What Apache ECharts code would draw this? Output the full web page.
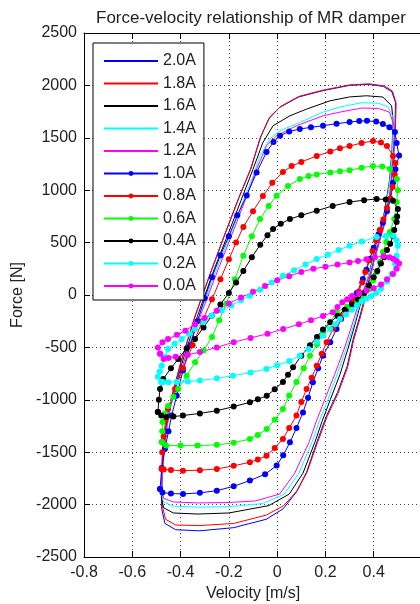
<!DOCTYPE html>
<html>
<head>
<meta charset="utf-8">
<script src="https://cdn.jsdelivr.net/npm/echarts@6/dist/echarts.min.js"></script>
<style>
  html, body { margin: 0; padding: 0; background: #fff; }
  #main { width: 420px; height: 604px; }
</style>
</head>
<body>
<div id="main"></div>
<script>
// legend labels, in plotting order
const currents = ["2.0A", "1.8A", "1.6A", "1.4A", "1.2A", "1.0A", "0.8A", "0.6A", "0.4A", "0.2A", "0.0A"];
const colors = ["#0000ff", "#ff0000", "#000000", "#00ffff", "#ff00ff", "#0000ff", "#ff0000", "#00ff00", "#000000", "#00ffff", "#ff00ff"];
const withMarkers = [false, false, false, false, false, true, true, true, true, true, true];

const xTicks = [-0.8, -0.6, -0.4, -0.2, 0, 0.2, 0.4, 0.6];
const yTicks = [-2500, -2000, -1500, -1000, -500, 0, 500, 1000, 1500, 2000, 2500];

// hysteresis loops: [velocity m/s, force N]
const loop20 = [[-0.478,-2040],[-0.480,-1880],[-0.475,-1600],[-0.465,-1300],[-0.44,-1000],[-0.40,-650],[-0.34,-200],[-0.27,250],[-0.21,620],[-0.16,920],[-0.11,1200],[-0.07,1500],[-0.035,1680],[0.01,1790],[0.09,1890],[0.19,1950],[0.30,2000],[0.38,2010],[0.44,1990],[0.475,1940],[0.49,1840],[0.488,1600],[0.48,1300],[0.468,980],[0.44,660],[0.40,340],[0.37,40],[0.343,-200],[0.315,-420],[0.29,-680],[0.25,-930],[0.205,-1150],[0.165,-1400],[0.122,-1690],[0.08,-1880],[0.025,-2040],[-0.045,-2140],[-0.18,-2220],[-0.32,-2250],[-0.42,-2240],[-0.465,-2180],[-0.478,-2040]];
const loop18 = [[-0.476,-2010],[-0.478,-1850],[-0.473,-1580],[-0.463,-1290],[-0.438,-990],[-0.398,-640],[-0.338,-190],[-0.268,260],[-0.208,630],[-0.158,930],[-0.108,1210],[-0.068,1510],[-0.03,1700],[0.015,1800],[0.09,1895],[0.19,1955],[0.30,2005],[0.38,2015],[0.445,1995],[0.478,1945],[0.493,1830],[0.49,1590],[0.482,1290],[0.47,970],[0.442,650],[0.402,330],[0.372,30],[0.345,-210],[0.317,-430],[0.292,-690],[0.252,-940],[0.207,-1160],[0.167,-1410],[0.124,-1690],[0.082,-1870],[0.027,-2010],[-0.045,-2100],[-0.18,-2180],[-0.32,-2200],[-0.42,-2195],[-0.462,-2140],[-0.476,-2010]];
const loop16 = [[-0.478,-1950],[-0.478,-1750],[-0.47,-1500],[-0.455,-1200],[-0.43,-950],[-0.39,-620],[-0.33,-200],[-0.26,250],[-0.20,600],[-0.15,900],[-0.10,1200],[-0.06,1450],[-0.017,1615],[0.053,1710],[0.122,1774],[0.219,1853],[0.30,1890],[0.37,1901],[0.438,1889],[0.474,1806],[0.48,1679],[0.476,1400],[0.466,1100],[0.445,800],[0.41,480],[0.378,180],[0.355,0],[0.325,-260],[0.295,-500],[0.26,-760],[0.22,-1000],[0.187,-1200],[0.157,-1400],[0.107,-1700],[0.05,-1900],[-0.035,-2010],[-0.2,-2080],[-0.33,-2090],[-0.43,-2080],[-0.47,-2030],[-0.478,-1950]];
const loop14 = [[-0.478,-1900],[-0.476,-1700],[-0.466,-1450],[-0.45,-1150],[-0.42,-900],[-0.38,-580],[-0.32,-180],[-0.25,250],[-0.19,600],[-0.14,900],[-0.10,1130],[-0.071,1329],[-0.03,1488],[0.012,1567],[0.094,1647],[0.19,1745],[0.26,1793],[0.35,1835],[0.42,1830],[0.46,1793],[0.48,1698],[0.479,1450],[0.47,1150],[0.452,850],[0.418,530],[0.385,230],[0.352,0],[0.322,-250],[0.288,-500],[0.248,-760],[0.21,-1000],[0.175,-1200],[0.145,-1400],[0.09,-1700],[0.03,-1900],[-0.06,-1990],[-0.2,-2020],[-0.33,-2024],[-0.43,-2015],[-0.47,-1975],[-0.478,-1900]];
const loop12 = [[-0.478,-1870],[-0.475,-1680],[-0.465,-1420],[-0.45,-1130],[-0.42,-880],[-0.375,-560],[-0.31,-150],[-0.24,270],[-0.18,620],[-0.13,920],[-0.085,1202],[-0.044,1424],[-0.002,1520],[0.08,1615],[0.19,1710],[0.26,1745],[0.35,1784],[0.42,1780],[0.465,1745],[0.485,1612],[0.484,1400],[0.474,1100],[0.458,820],[0.424,520],[0.39,220],[0.348,0],[0.315,-250],[0.28,-500],[0.238,-760],[0.197,-1000],[0.163,-1200],[0.133,-1400],[0.073,-1700],[0.01,-1900],[-0.09,-1965],[-0.2,-1980],[-0.33,-1984],[-0.43,-1975],[-0.47,-1940],[-0.478,-1870]];
const loop10 = [[-0.485,-1850],[-0.478,-1650],[-0.465,-1470],[-0.45,-1300],[-0.437,-1151],[-0.416,-961],[-0.39,-720],[-0.36,-480],[-0.33,-250],[-0.30,-30],[-0.27,170],[-0.235,380],[-0.20,560],[-0.165,760],[-0.126,950],[-0.085,1170],[-0.044,1364],[-0.015,1460],[0.012,1520],[0.05,1560],[0.094,1584],[0.14,1600],[0.19,1615],[0.246,1635],[0.30,1650],[0.34,1660],[0.372,1662],[0.41,1655],[0.438,1631],[0.465,1600],[0.488,1555],[0.495,1450],[0.505,1330],[0.49,1200],[0.48,1070],[0.47,916],[0.455,800],[0.438,690],[0.42,580],[0.40,450],[0.384,343],[0.37,240],[0.355,153],[0.33,20],[0.31,-70],[0.288,-134],[0.265,-230],[0.246,-324],[0.22,-450],[0.19,-579],[0.17,-700],[0.148,-833],[0.128,-980],[0.107,-1120],[0.08,-1270],[0.053,-1405],[0.025,-1530],[-0.002,-1628],[-0.05,-1710],[-0.113,-1771],[-0.18,-1825],[-0.25,-1867],[-0.32,-1888],[-0.39,-1898],[-0.44,-1895],[-0.475,-1885],[-0.485,-1850]];
const loop08 = [[-0.478,-1660],[-0.476,-1500],[-0.47,-1350],[-0.462,-1200],[-0.452,-1088],[-0.423,-897],[-0.39,-700],[-0.35,-480],[-0.31,-250],[-0.27,-40],[-0.235,150],[-0.20,340],[-0.17,500],[-0.14,650],[-0.10,800],[-0.059,945],[-0.02,1070],[0.024,1173],[0.06,1230],[0.10,1270],[0.164,1326],[0.22,1370],[0.26,1400],[0.30,1422],[0.35,1450],[0.397,1470],[0.43,1455],[0.455,1422],[0.48,1326],[0.49,1260],[0.487,1150],[0.478,1030],[0.467,916],[0.455,830],[0.44,720],[0.425,620],[0.41,520],[0.395,420],[0.38,330],[0.365,220],[0.352,120],[0.338,30],[0.315,-60],[0.29,-130],[0.26,-197],[0.232,-320],[0.205,-450],[0.185,-560],[0.164,-674],[0.143,-790],[0.122,-897],[0.10,-1020],[0.08,-1151],[0.05,-1270],[0.024,-1374],[-0.01,-1460],[-0.044,-1533],[-0.08,-1570],[-0.113,-1596],[-0.18,-1630],[-0.25,-1660],[-0.32,-1672],[-0.39,-1676],[-0.44,-1670],[-0.47,-1665],[-0.478,-1660]];
const loop06 = [[-0.478,-1403],[-0.476,-1300],[-0.475,-1212],[-0.465,-1130],[-0.452,-1059],[-0.43,-970],[-0.41,-897],[-0.375,-770],[-0.34,-642],[-0.305,-530],[-0.27,-400],[-0.24,-240],[-0.21,-80],[-0.175,150],[-0.14,375],[-0.105,560],[-0.071,725],[-0.035,850],[-0.002,947],[0.045,1040],[0.094,1107],[0.13,1135],[0.164,1150],[0.22,1170],[0.26,1180],[0.30,1190],[0.35,1215],[0.397,1231],[0.435,1225],[0.467,1202],[0.496,1107],[0.50,1000],[0.495,887],[0.485,725],[0.467,601],[0.452,505],[0.438,410],[0.425,315],[0.412,219],[0.398,140],[0.384,57],[0.36,-20],[0.33,-80],[0.29,-110],[0.246,-165],[0.22,-260],[0.19,-356],[0.165,-470],[0.136,-579],[0.11,-700],[0.08,-830],[0.05,-960],[0.024,-1088],[-0.01,-1190],[-0.043,-1278],[-0.08,-1335],[-0.113,-1374],[-0.18,-1410],[-0.25,-1430],[-0.33,-1437],[-0.40,-1437],[-0.46,-1437],[-0.478,-1403]];
const loop04 = [[-0.494,-1116],[-0.49,-1000],[-0.485,-897],[-0.472,-801],[-0.44,-700],[-0.41,-610],[-0.375,-510],[-0.34,-420],[-0.305,-310],[-0.271,-197],[-0.235,-90],[-0.20,20],[-0.17,120],[-0.14,230],[-0.105,360],[-0.07,480],[-0.04,570],[-0.017,630],[0.015,680],[0.053,725],[0.10,760],[0.164,804],[0.23,850],[0.30,887],[0.36,905],[0.412,916],[0.45,912],[0.48,900],[0.50,820],[0.497,750],[0.495,696],[0.485,620],[0.48,560],[0.468,490],[0.455,430],[0.443,360],[0.43,300],[0.415,230],[0.40,170],[0.38,90],[0.36,20],[0.335,-40],[0.31,-90],[0.28,-140],[0.25,-200],[0.22,-260],[0.19,-330],[0.165,-400],[0.136,-480],[0.10,-580],[0.066,-690],[0.045,-760],[0.024,-830],[-0.01,-900],[-0.043,-961],[-0.08,-995],[-0.113,-1024],[-0.18,-1065],[-0.25,-1104],[-0.32,-1130],[-0.39,-1150],[-0.43,-1160],[-0.458,-1164],[-0.48,-1150],[-0.494,-1116]];
const loop02 = [[-0.48,-830],[-0.494,-780],[-0.486,-730],[-0.478,-674],[-0.465,-590],[-0.452,-515],[-0.425,-465],[-0.395,-420],[-0.365,-370],[-0.34,-324],[-0.305,-260],[-0.271,-197],[-0.23,-150],[-0.19,-100],[-0.15,-50],[-0.113,-6],[-0.07,50],[-0.023,120],[0.024,184],[0.07,235],[0.118,290],[0.164,343],[0.21,385],[0.255,430],[0.30,471],[0.35,510],[0.412,553],[0.45,562],[0.48,566],[0.495,520],[0.50,471],[0.495,375],[0.488,300],[0.475,200],[0.455,130],[0.43,60],[0.41,20],[0.39,-10],[0.37,-35],[0.35,-60],[0.33,-100],[0.31,-140],[0.285,-185],[0.26,-230],[0.24,-280],[0.219,-324],[0.19,-390],[0.164,-448],[0.13,-515],[0.094,-579],[0.05,-630],[0.0,-670],[-0.044,-706],[-0.11,-740],[-0.183,-770],[-0.25,-795],[-0.32,-817],[-0.37,-825],[-0.416,-830],[-0.45,-832],[-0.472,-830],[-0.48,-830]];
const loop00 = [[-0.485,-560],[-0.494,-500],[-0.475,-450],[-0.452,-420],[-0.415,-380],[-0.38,-340],[-0.34,-280],[-0.30,-220],[-0.25,-150],[-0.20,-80],[-0.15,-25],[-0.10,30],[-0.05,85],[0.0,140],[0.05,180],[0.1,220],[0.15,250],[0.2,270],[0.25,290],[0.3,310],[0.335,325],[0.37,340],[0.405,360],[0.44,370],[0.465,360],[0.48,345],[0.495,325],[0.505,300],[0.495,250],[0.48,200],[0.455,150],[0.43,100],[0.4,65],[0.37,40],[0.34,15],[0.31,-10],[0.29,-40],[0.27,-70],[0.25,-115],[0.23,-165],[0.19,-200],[0.14,-240],[0.09,-280],[0.025,-325],[-0.04,-370],[-0.11,-410],[-0.18,-450],[-0.25,-500],[-0.32,-545],[-0.37,-570],[-0.42,-590],[-0.45,-600],[-0.47,-610],[-0.485,-560]];

const loops = [loop20, loop18, loop16, loop14, loop12, loop10, loop08, loop06, loop04, loop02, loop00];

const font = "'Liberation Sans', Arial, Helvetica, sans-serif";
const textColor = "#222";

const series = loops.map((data, i) => ({
  name: currents[i],
  type: "line",
  data: data,
  symbol: withMarkers[i] ? "circle" : "none",
  symbolSize: 6,
  showSymbol: withMarkers[i],
  lineStyle: { color: colors[i], width: 1 },
  itemStyle: { color: colors[i] },
  emphasis: { disabled: true },
}));

// line-only entries get no dot in the legend
const legendData = currents.map((name, i) => ({
  name: name,
  itemStyle: withMarkers[i] ? { color: colors[i] } : { opacity: 0 },
}));

const option = {
  backgroundColor: "#fff",
  animation: false,
  title: {
    text: "Force-velocity relationship of MR damper",
    left: 96,
    top: 10,
    padding: 0,
    textStyle: { fontFamily: font, fontSize: 17, fontWeight: "normal", color: textColor },
  },
  legend: {
    orient: "vertical",
    left: 93,
    top: 43,
    padding: [10, 8, 6, 10],
    itemWidth: 54,
    itemHeight: 6,
    itemGap: 6.5,
    backgroundColor: "#fff",
    borderColor: "#000",
    borderWidth: 1,
    borderRadius: 0,
    data: legendData,
    textStyle: { fontFamily: font, fontSize: 16, color: textColor, width: 36 },
  },
  // the plot box runs a little past the right edge of the page, as in the figure
  grid: { left: 84, top: 33, width: 338, height: 524, outerBoundsMode: "none" },
  xAxis: [
    {
      type: "value",
      min: xTicks[0],
      max: xTicks[xTicks.length - 1],
      interval: 0.2,
      name: "Velocity [m/s]",
      nameLocation: "middle",
      nameGap: 29,
      nameTextStyle: { fontFamily: font, fontSize: 16, color: textColor },
      axisLine: { show: true, onZero: false, lineStyle: { color: "#000", width: 1 } },
      axisTick: { show: true, inside: true, length: 6, lineStyle: { color: "#000" } },
      axisLabel: {
        fontFamily: font, fontSize: 16, color: textColor, margin: 8,
        showMaxLabel: false,
        formatter: (v) => String(Math.round(v * 10) / 10),
      },
      splitLine: { show: true, lineStyle: { color: "#444", type: [1, 3], width: 1 } },
    },
    {
      type: "value",
      position: "top",
      min: xTicks[0],
      max: xTicks[xTicks.length - 1],
      interval: 0.2,
      axisLine: { show: true, onZero: false, lineStyle: { color: "#000", width: 1 } },
      axisTick: { show: true, inside: true, length: 6, lineStyle: { color: "#000" } },
      axisLabel: { show: false },
      splitLine: { show: false },
    },
  ],
  yAxis: {
    type: "value",
    min: yTicks[0],
    max: yTicks[yTicks.length - 1],
    interval: 500,
    name: "Force [N]",
    nameLocation: "middle",
    nameGap: 47,
    nameTextStyle: { fontFamily: font, fontSize: 16, color: textColor },
    axisLine: { show: true, onZero: false, lineStyle: { color: "#000", width: 1 } },
    axisTick: { show: true, inside: true, length: 6, lineStyle: { color: "#000" } },
    axisLabel: { fontFamily: font, fontSize: 16, color: textColor, margin: 7, formatter: (v) => String(v) },
    splitLine: { show: true, lineStyle: { color: "#444", type: [1, 3], width: 1 } },
  },
  series: series,
};

const myChart = echarts.init(document.getElementById("main"), null, { renderer: "canvas" });
myChart.setOption(option);
</script>
</body>
</html>
